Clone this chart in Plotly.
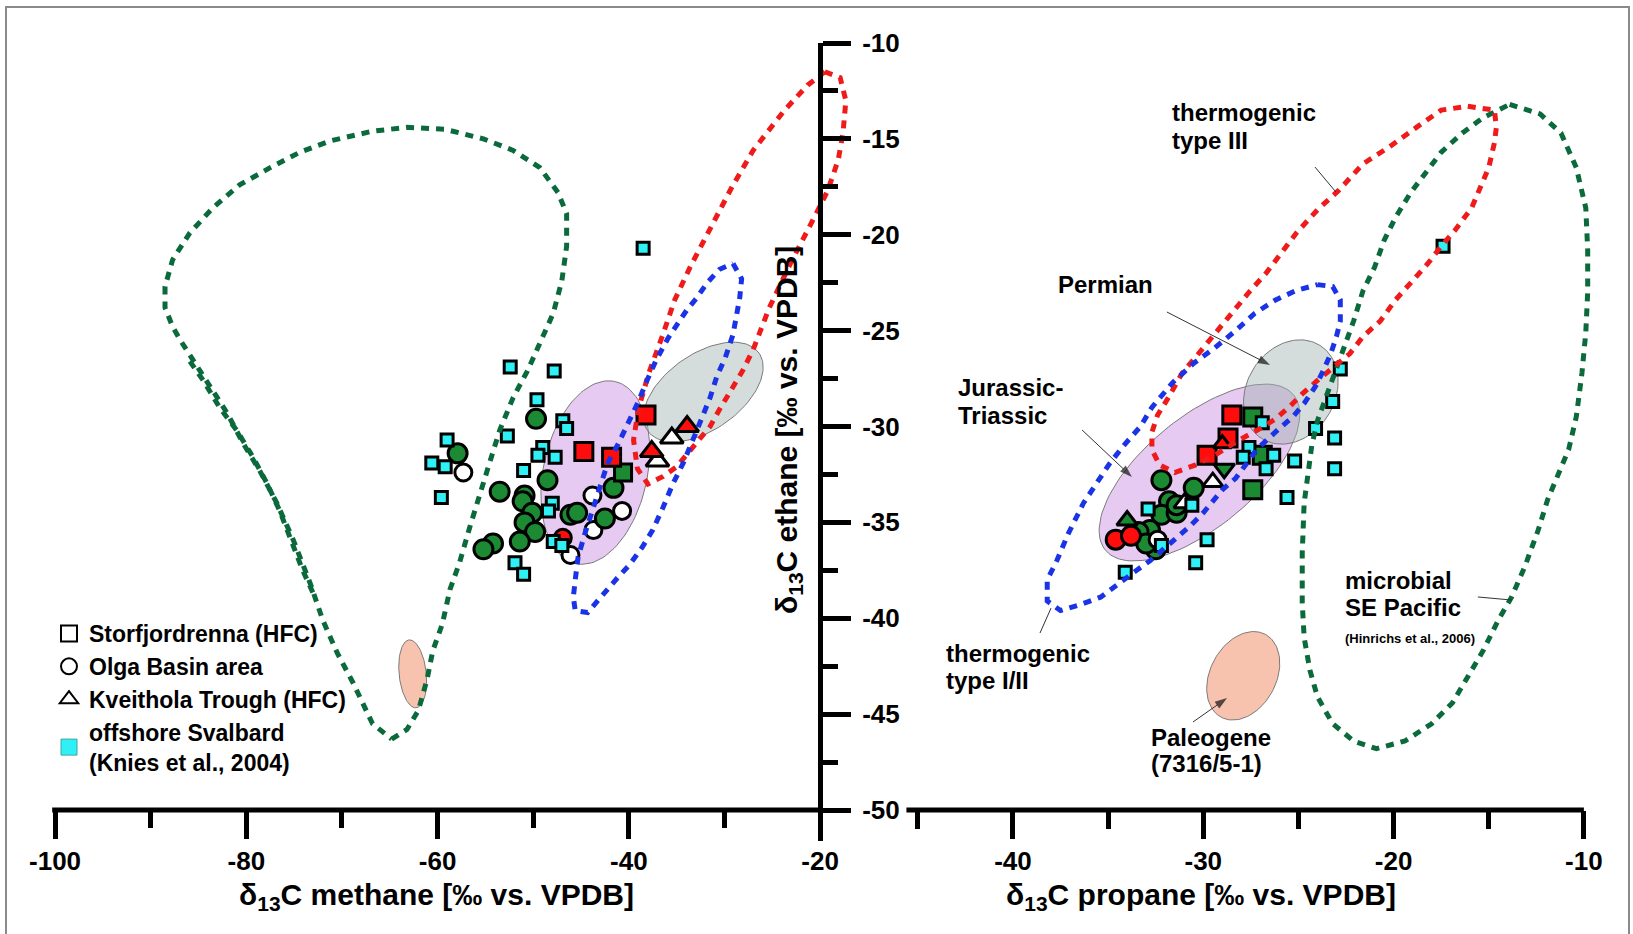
import numpy as np
import plotly.graph_objects as go

FONT = "Liberation Sans, Arial, Helvetica, sans-serif"

# ======================= DATA =======================
# ---------- Left panel: d13C methane (x) vs d13C ethane (y) ----------
L_offshore_x = [-52.4, -47.8, -49.6, -46.9, -46.5, -52.7, -59.0, -49.0, -49.5, -47.7, -60.6,
                -59.2, -51.0, -59.6, -48.0, -48.4, -47.9, -47.0, -51.9, -51.0, -38.5]
L_offshore_y = [-26.9, -27.1, -28.6, -29.7, -30.1, -30.5, -30.7, -31.1, -31.5, -31.6, -31.9,
                -32.1, -32.3, -33.7, -34.0, -34.4, -36.0, -36.2, -37.1, -37.7, -20.7]
L_green_circ_x = [-49.7, -57.9, -48.5, -53.5, -50.9, -51.1, -50.1, -50.9, -49.8, -51.4, -54.2,
                  -55.2, -46.1, -45.4, -42.5, -41.6]
L_green_circ_y = [-29.6, -31.4, -32.8, -33.4, -33.6, -33.9, -34.5, -35.0, -35.5, -36.0, -36.1,
                  -36.4, -34.6, -34.5, -34.8, -33.2]
L_open_circ_x = [-57.3, -43.8, -40.7, -43.7, -46.1]
L_open_circ_y = [-32.4, -33.6, -34.4, -35.4, -36.7]
L_red_circ_x = [-46.9]
L_red_circ_y = [-35.8]
L_green_sq_x = [-40.6]
L_green_sq_y = [-32.4]
L_red_sq_x = [-38.2, -44.7, -41.8]
L_red_sq_y = [-29.4, -31.3, -31.6]
L_red_tri_x = [-33.9, -37.6]
L_red_tri_y = [-30.0, -31.3]
L_open_tri_x = [-35.5, -37.0]
L_open_tri_y = [-30.6, -31.8]

# genetic fields, left panel (dotted outlines)
L_microbial_x = [-64.8, -63.2, -62.0, -61.1, -60.5, -59.5, -58.7, -57.7, -56.6, -55.6, -54.5, -53.5,
                 -52.1, -50.6, -49.3, -47.9, -47.0, -46.5, -46.5, -47.4, -49.3, -52.1, -55.2, -59.2,
                 -63.2, -66.8, -71.2, -74.4, -77.5, -80.7, -83.5, -85.9, -87.7, -88.5, -88.5, -87.7,
                 -86.9, -85.6, -83.8, -82.0, -80.3, -78.6, -76.8, -75.1, -73.3, -72.0, -70.5, -68.8,
                 -66.8, -64.8]
L_microbial_y = [-46.3, -45.8, -44.8, -43.2, -41.7, -40.3, -38.5, -37.1, -35.2, -33.5, -31.8, -30.2,
                 -28.5, -27.1, -25.7, -24.1, -22.4, -20.6, -18.9, -17.8, -16.5, -15.6, -15.0, -14.5,
                 -14.4, -14.6, -15.1, -15.7, -16.5, -17.4, -18.6, -19.9, -21.3, -22.7, -23.8, -24.8,
                 -25.5, -26.5, -27.9, -29.3, -30.9, -32.3, -34.0, -35.9, -38.2, -40.1, -41.8, -43.4,
                 -45.5, -46.3]
L_microbial2_x = [-85.9, -84.5, -82.8, -81.0, -79.3, -77.8, -76.5, -75.4, -74.1, -73.0]
L_microbial2_y = [-26.6, -27.6, -29.0, -30.2, -31.6, -33.0, -34.4, -35.8, -37.5, -38.7]
L_typeIII_x = [-19.5, -17.9, -17.3, -17.6, -18.1, -19.2, -20.4, -23.1, -25.3, -27.0, -28.1, -29.1,
               -30.5, -31.5, -33.3, -35.0, -36.4, -38.0, -39.1, -39.5, -39.0, -37.9, -36.5, -35.2,
               -33.6, -31.4, -29.2, -27.0, -23.7, -21.3, -19.5]
L_typeIII_y = [-11.5, -11.8, -13.0, -14.7, -16.1, -17.7, -18.9, -21.5, -23.8, -26.0, -27.1, -27.9,
               -29.1, -30.0, -31.1, -32.1, -32.6, -33.0, -32.2, -30.7, -29.1, -27.2, -25.3, -23.4,
               -21.7, -19.6, -17.5, -15.6, -13.5, -12.2, -11.5]
L_typeI_II_x = [-29.1, -28.2, -28.4, -28.7, -29.1, -29.9, -30.8, -31.5, -32.2, -33.3, -34.3, -35.4,
                -36.4, -37.5, -38.6, -39.9, -41.2, -42.9, -44.3, -45.6, -45.8, -45.6, -45.3, -44.6,
                -43.8, -43.0, -42.2, -41.1, -39.9, -39.0, -38.1, -37.1, -35.9, -35.0, -33.9, -32.9,
                -31.8, -30.5, -29.1]
L_typeI_II_y = [-21.5, -22.3, -23.3, -24.1, -25.2, -26.4, -27.4, -28.5, -29.3, -30.7, -31.9, -33.0,
                -34.2, -35.4, -36.3, -37.2, -37.9, -38.9, -39.7, -39.6, -38.9, -38.0, -36.8, -35.6,
                -34.4, -33.2, -31.9, -30.9, -29.7, -28.7, -27.6, -26.5, -25.4, -24.7, -23.9, -23.3,
                -22.5, -21.8, -21.5]
# shaded source-rock fields, left panel: centre, major semi-axis, minor semi-axis
L_jurassic = dict(c=(-43.5, -32.4), u=(2.02, 4.75), v=(5.32, -0.56))
L_permian = dict(c=(-32.2, -28.2), u=(5.82, 2.03), v=(-2.28, 1.62))
L_paleogene = dict(c=(-62.6, -42.9), u=(-0.37, 1.77), v=(1.41, 0.07))

# ---------- Right panel: d13C propane (x) vs d13C ethane (y) ----------
R_offshore_x = [-17.4, -22.8, -23.2, -24.1, -23.1, -25.2, -23.1, -25.6, -26.9, -27.6, -26.3, -26.7,
                -27.9, -30.6, -32.9, -32.2, -29.8, -30.4, -34.1]
R_offshore_y = [-20.6, -27.0, -28.7, -30.1, -30.6, -31.8, -32.2, -33.7, -29.8, -31.1, -31.5, -32.2,
                -31.6, -34.1, -34.3, -36.2, -35.9, -37.1, -37.6]
R_green_circ_x = [-32.2, -30.5, -31.8, -32.2, -31.4, -32.8, -33.4, -32.5, -33.0, -31.4]
R_green_circ_y = [-32.8, -33.2, -33.9, -34.6, -34.5, -35.4, -35.5, -36.4, -36.1, -34.1]
R_open_circ_x = [-32.4]
R_open_circ_y = [-35.9]
R_red_circ_x = [-34.6, -33.8]
R_red_circ_y = [-35.9, -35.7]
R_green_sq_x = [-27.4, -27.4, -26.9]
R_green_sq_y = [-29.5, -33.3, -31.5]
R_red_sq_x = [-28.5, -28.7, -29.8]
R_red_sq_y = [-29.4, -30.6, -31.5]
R_red_tri_x = [-29.0]
R_red_tri_y = [-30.9]
R_green_tri_x = [-34.0]
R_green_tri_y = [-34.9]
R_green_tridown_x = [-28.9]
R_green_tridown_y = [-32.2]
R_open_tri_x = [-29.5, -31.0]
R_open_tri_y = [-32.9, -34.0]

R_microbial_x = [-13.9, -12.3, -11.2, -10.4, -9.9, -9.8, -9.8, -9.9, -10.1, -10.4, -10.8, -11.4,
                 -11.9, -12.4, -13.1, -13.8, -14.5, -15.3, -16.1, -16.9, -18.0, -19.4, -20.9, -22.1,
                 -23.2, -24.0, -24.4, -24.7, -24.8, -24.8, -24.7, -24.5, -24.3, -24.0, -23.6, -23.2,
                 -22.6, -22.1, -21.6, -21.0, -20.5, -19.9, -19.1, -18.2, -17.5, -16.4, -15.3, -13.9]
R_microbial_y = [-13.2, -13.7, -14.7, -16.5, -18.6, -20.8, -23.0, -25.1, -27.2, -29.5, -31.2, -32.7,
                 -33.8, -35.4, -37.3, -38.9, -40.1, -41.7, -43.1, -44.4, -45.5, -46.4, -46.8, -46.4,
                 -45.5, -44.1, -42.7, -41.0, -39.2, -36.6, -34.0, -32.3, -31.0, -29.7, -28.6, -27.4,
                 -25.9, -24.5, -22.9, -21.7, -20.3, -19.1, -17.8, -16.6, -15.7, -14.7, -13.9, -13.2]
R_typeIII_x = [-16.1, -14.7, -14.6, -14.7, -15.0, -15.4, -15.9, -16.8, -17.5, -18.2, -19.1, -19.9,
               -20.7, -21.6, -22.3, -23.2, -24.0, -24.8, -25.4, -26.2, -27.0, -28.1, -29.4, -30.4,
               -31.5, -32.3, -32.7, -32.7, -32.4, -31.9, -31.4, -31.1, -30.5, -30.0, -29.4, -28.9,
               -28.3, -27.6, -26.7, -25.9, -25.1, -24.0, -22.9, -21.6, -20.2, -18.8, -17.5, -16.1]
R_typeIII_y = [-13.3, -13.5, -14.4, -15.2, -16.5, -17.5, -18.6, -19.8, -20.6, -21.5, -22.5, -23.4,
               -24.5, -25.3, -26.2, -26.9, -27.6, -28.3, -28.9, -29.6, -30.1, -30.7, -31.5, -32.0,
               -32.4, -32.0, -31.2, -30.3, -29.4, -28.6, -27.8, -27.2, -26.5, -25.9, -25.1, -24.5,
               -23.8, -23.0, -22.0, -21.0, -19.9, -18.7, -17.7, -16.3, -15.4, -14.4, -13.5, -13.3]
R_typeI_II_x = [-24.0, -23.2, -22.8, -22.8, -23.0, -23.3, -23.7, -24.1, -24.7, -25.3, -26.0, -26.7,
                -27.2, -27.7, -28.3, -29.0, -29.5, -30.0, -30.7, -31.4, -32.1, -32.8, -33.5, -34.3,
                -35.4, -36.5, -37.5, -38.2, -38.2, -37.7, -37.1, -36.3, -35.7, -34.9, -34.1, -33.3,
                -32.7, -31.6, -30.5, -29.4, -28.3, -27.3, -26.2, -25.1, -24.0]
R_typeI_II_y = [-22.6, -22.7, -23.4, -24.5, -25.3, -26.2, -27.1, -27.9, -28.8, -29.5, -30.1, -30.7,
                -31.2, -31.9, -32.7, -33.3, -33.9, -34.5, -35.2, -35.8, -36.4, -37.0, -37.5, -38.1,
                -38.9, -39.3, -39.6, -39.1, -38.0, -37.0, -35.6, -34.0, -33.1, -31.9, -30.9, -30.0,
                -29.0, -27.7, -26.7, -25.9, -25.0, -24.1, -23.4, -22.9, -22.6]
R_jurassic = dict(c=(-30.2, -32.4), u=(4.94, 4.05), v=(-1.84, 2.21))
R_permian = dict(c=(-25.4, -28.2), u=(1.53, 2.43), v=(-1.96, 1.22))
R_paleogene = dict(c=(-27.9, -43.0), u=(1.16, 2.16), v=(-1.53, 0.81))

# ---------- axis ticks ----------
L_major = [-100, -80, -60, -40, -20]
L_minor = [-90, -70, -50, -30]
R_major = [-40, -30, -20, -10]
R_minor = [-45, -35, -25, -15]
Y_major = [-50, -45, -40, -35, -30, -25, -20, -15, -10]
Y_minor = [-47.5, -42.5, -37.5, -32.5, -27.5, -22.5, -17.5, -12.5]
L_ticklabels = ["-100", "-80", "-60", "-40", "-20"]
R_ticklabels = ["-40", "-30", "-20", "-10"]
Y_ticklabels = ["-50", "-45", "-40", "-35", "-30", "-25", "-20", "-15", "-10"]

legend_labels = ["Storfjordrenna (HFC)", "Olga Basin area", "Kveithola Trough (HFC)",
                 "offshore Svalbard<br>(Knies et al., 2004)"]

# ======================= STYLE =======================
C_GREEN_FIELD = "#0b6a3b"
C_RED_FIELD = "#ef1b1b"
C_BLUE_FIELD = "#1b33e6"
C_GREEN = "#1c8a33"
C_RED = "#ff0d0d"
C_CYAN = "#2ff0f5"
F_PURPLE = "rgba(205,150,228,0.50)"
F_GREY = "rgba(160,178,178,0.45)"
F_SALMON = "rgba(245,170,140,0.70)"
DOT = "8px,7px"

fig = go.Figure()


def ellipse(p, n=120):
    t = np.linspace(0, 2 * np.pi, n)
    cx, cy = p["c"]
    ux, uy = p["u"]
    vx, vy = p["v"]
    return cx + ux * np.cos(t) + vx * np.sin(t), cy + uy * np.cos(t) + vy * np.sin(t)


def field_fill(p, xa, color):
    ex, ey = ellipse(p)
    fig.add_trace(go.Scatter(x=ex, y=ey, xaxis=xa, yaxis="y", mode="lines", fill="toself",
                             fillcolor=color, line=dict(color="#7a7a7a", width=1),
                             showlegend=False, hoverinfo="skip"))


def pts(x, y, xa, symbol, fill, size, lw=3):
    fig.add_trace(go.Scatter(x=x, y=y, xaxis=xa, yaxis="y", mode="markers", showlegend=False,
                             marker=dict(symbol=symbol, color=fill, size=size,
                                         line=dict(color="black", width=lw))))


def outline(x, y, xa, color):
    fig.add_trace(go.Scatter(x=x, y=y, xaxis=xa, yaxis="y", mode="lines", showlegend=False,
                             line=dict(color=color, width=5, dash=DOT), hoverinfo="skip"))


# shaded fields
for p, col in [(L_jurassic, F_PURPLE), (L_permian, F_GREY), (L_paleogene, F_SALMON)]:
    field_fill(p, "x", col)
for p, col in [(R_jurassic, F_PURPLE), (R_permian, F_GREY), (R_paleogene, F_SALMON)]:
    field_fill(p, "x2", col)

# left points
pts(L_open_circ_x, L_open_circ_y, "x", "circle", "white", 17)
pts(L_green_circ_x, L_green_circ_y, "x", "circle", C_GREEN, 19)
pts(L_red_circ_x, L_red_circ_y, "x", "circle", C_RED, 17)
pts(L_green_sq_x, L_green_sq_y, "x", "square", C_GREEN, 17)
pts(L_offshore_x, L_offshore_y, "x", "square", C_CYAN, 12)
pts(L_red_sq_x, L_red_sq_y, "x", "square", C_RED, 18)
pts(L_open_tri_x, L_open_tri_y, "x", "triangle-up", "white", 20)
pts(L_red_tri_x, L_red_tri_y, "x", "triangle-up", C_RED, 20)

# right points
pts(R_green_circ_x, R_green_circ_y, "x2", "circle", C_GREEN, 19)
pts(R_open_circ_x, R_open_circ_y, "x2", "circle", "white", 17)
pts(R_red_circ_x, R_red_circ_y, "x2", "circle", C_RED, 19)
pts(R_open_tri_x, R_open_tri_y, "x2", "triangle-up", "white", 18)
pts(R_green_tri_x, R_green_tri_y, "x2", "triangle-up", C_GREEN, 18)
pts(R_green_tridown_x, R_green_tridown_y, "x2", "triangle-down", C_GREEN, 18)
pts(R_green_sq_x, R_green_sq_y, "x2", "square", C_GREEN, 18)
pts(R_red_sq_x, R_red_sq_y, "x2", "square", C_RED, 18)
pts(R_red_tri_x, R_red_tri_y, "x2", "triangle-up", C_RED, 16)
pts(R_offshore_x, R_offshore_y, "x2", "square", C_CYAN, 12)

# dotted genetic fields
outline(L_microbial_x, L_microbial_y, "x", C_GREEN_FIELD)
outline(L_microbial2_x, L_microbial2_y, "x", C_GREEN_FIELD)
outline(L_typeIII_x, L_typeIII_y, "x", C_RED_FIELD)
outline(L_typeI_II_x, L_typeI_II_y, "x", C_BLUE_FIELD)
outline(R_microbial_x, R_microbial_y, "x2", C_GREEN_FIELD)
outline(R_typeIII_x, R_typeIII_y, "x2", C_RED_FIELD)
outline(R_typeI_II_x, R_typeI_II_y, "x2", C_BLUE_FIELD)

# pointer lines (tail x, tail y, head x, head y, with arrowhead?)
pointers = [
    (-24.13, -16.47, -23.03, -17.77, False),
    (-31.91, -24.03, -26.49, -26.79, True),
    (-36.37, -30.18, -33.75, -32.63, True),
    (-38.58, -40.77, -38.00, -39.47, False),
    (-30.54, -45.41, -28.75, -44.16, True),
    (-15.57, -38.89, -13.78, -39.05, False),
]
for tx, ty, hx, hy, head in pointers:
    fig.add_trace(go.Scatter(
        x=[tx, hx], y=[ty, hy], xaxis="x2", yaxis="y", showlegend=False, hoverinfo="skip",
        mode="lines+markers" if head else "lines",
        line=dict(color="#333333", width=1),
        marker=dict(symbol="arrow", angleref="previous", size=[0, 13], color="#111111",
                    line=dict(width=0))))

# legend entries (shape legend)
leg_style = [("square", "white", "black", 2), ("circle", "white", "black", 2),
             ("triangle-up", "white", "black", 2), ("square", C_CYAN, "#3aa6a6", 1)]
for lab, (sym, fc, lc, lw) in zip(legend_labels, leg_style):
    fig.add_trace(go.Scatter(x=[None], y=[None], xaxis="x", yaxis="y", mode="markers", name=lab,
                             marker=dict(symbol=sym, color=fc, size=16, line=dict(color=lc, width=lw))))

bold = dict(family=FONT, color="black", weight="bold")
tickfont = dict(bold, size=26)

common_x = dict(showgrid=False, zeroline=False, showline=False, ticks="outside", ticklen=28,
                tickwidth=5, tickcolor="black", tickfont=tickfont, anchor="free",
                position=(934 - 810) / 934, tickmode="array", fixedrange=True, automargin=False)
fig.update_layout(
    template="none",
    width=1633, height=934, margin=dict(l=0, r=0, t=0, b=0, pad=0, autoexpand=False),
    paper_bgcolor="white", plot_bgcolor="rgba(0,0,0,0)",
    xaxis=dict(common_x, domain=[49.3 / 1633, 860.2 / 1633], range=[-100.6, -15.8],
               tickvals=L_major, ticktext=L_ticklabels,
               minor=dict(tickvals=L_minor, ticklen=17, tickwidth=5, tickcolor="black", ticks="outside")),
    xaxis2=dict(common_x, domain=[902.6 / 1633, 1593.4 / 1633], range=[-45.8, -9.5],
                tickvals=R_major, ticktext=R_ticklabels,
                minor=dict(tickvals=R_minor, ticklen=18, tickwidth=5, tickcolor="black", ticks="outside")),
    yaxis=dict(domain=[(934 - 840.7) / 934, (934 - 43) / 934], range=[-51.6, -10],
               anchor="free", position=820 / 1633, side="right", showgrid=False, zeroline=False,
               showline=True, linewidth=5, linecolor="black", ticks="outside", ticklen=28,
               tickwidth=5, tickcolor="black", tickfont=tickfont, tickmode="array",
               tickvals=Y_major, ticktext=Y_ticklabels, ticklabelstandoff=6, fixedrange=True,
               automargin=False,
               minor=dict(tickvals=Y_minor, ticklen=15, tickwidth=5, tickcolor="black", ticks="outside")),
    showlegend=True,
    legend=dict(x=49 / 1633, y=(934 - 612) / 934, xanchor="left", yanchor="top",
                font=dict(bold, size=23), bgcolor="rgba(0,0,0,0)", tracegroupgap=0,
                itemclick=False, itemdoubleclick=False),
)

# x-axis lines and frame
fig.add_shape(type="line", xref="x", yref="y", x0=-100.3, x1=-20, y0=-50, y1=-50,
              line=dict(color="black", width=5))
fig.add_shape(type="line", xref="x2", yref="y", x0=-45.6, x1=-10, y0=-50, y1=-50,
              line=dict(color="black", width=5))
fig.add_shape(type="rect", xref="paper", yref="paper", x0=6 / 1633, x1=1629 / 1633,
              y0=-0.02, y1=(934 - 7) / 934, line=dict(color="#8a8a8a", width=2))

# axis titles
title_font = dict(bold, size=30)
fig.add_annotation(xref="paper", yref="paper", x=437 / 1633, y=(934 - 896) / 934,
                   xanchor="center", yanchor="middle",
                   text="δ<sub>13</sub>C methane [‰ vs. VPDB]", showarrow=False, font=title_font)
fig.add_annotation(xref="paper", yref="paper", x=1201 / 1633, y=(934 - 896) / 934,
                   xanchor="center", yanchor="middle",
                   text="δ<sub>13</sub>C propane [‰ vs. VPDB]", showarrow=False, font=title_font)
fig.add_annotation(xref="paper", yref="paper", x=788 / 1633, y=(934 - 430) / 934, textangle=-90,
                   xanchor="center", yanchor="middle",
                   text="δ<sub>13</sub>C ethane [‰ vs. VPDB]", showarrow=False, font=title_font)

# field labels (right panel)
lab_font = dict(bold, size=24)
labels = [
    ("thermogenic", -31.75, -13.6), ("type III", -31.75, -15.1),
    ("Permian", -37.74, -22.62),
    ("Jurassic-", -43.0, -27.95), ("Triassic", -43.0, -29.45),
    ("thermogenic", -43.63, -41.85), ("type I/II", -43.63, -43.25),
    ("Paleogene", -32.85, -46.2), ("(7316/5-1)", -32.85, -47.55),
    ("microbial", -22.66, -38.05), ("SE Pacific", -22.66, -39.45),
]
for t, x, y in labels:
    fig.add_annotation(xref="x2", yref="y", x=x, y=y, text=t, showarrow=False, xanchor="left",
                       yanchor="middle", font=lab_font)
fig.add_annotation(xref="x2", yref="y", x=-22.66, y=-41.03, text="(Hinrichs et al., 2006)",
                   showarrow=False, xanchor="left", yanchor="middle", font=dict(bold, size=13))

fig.write_html("out.html")
